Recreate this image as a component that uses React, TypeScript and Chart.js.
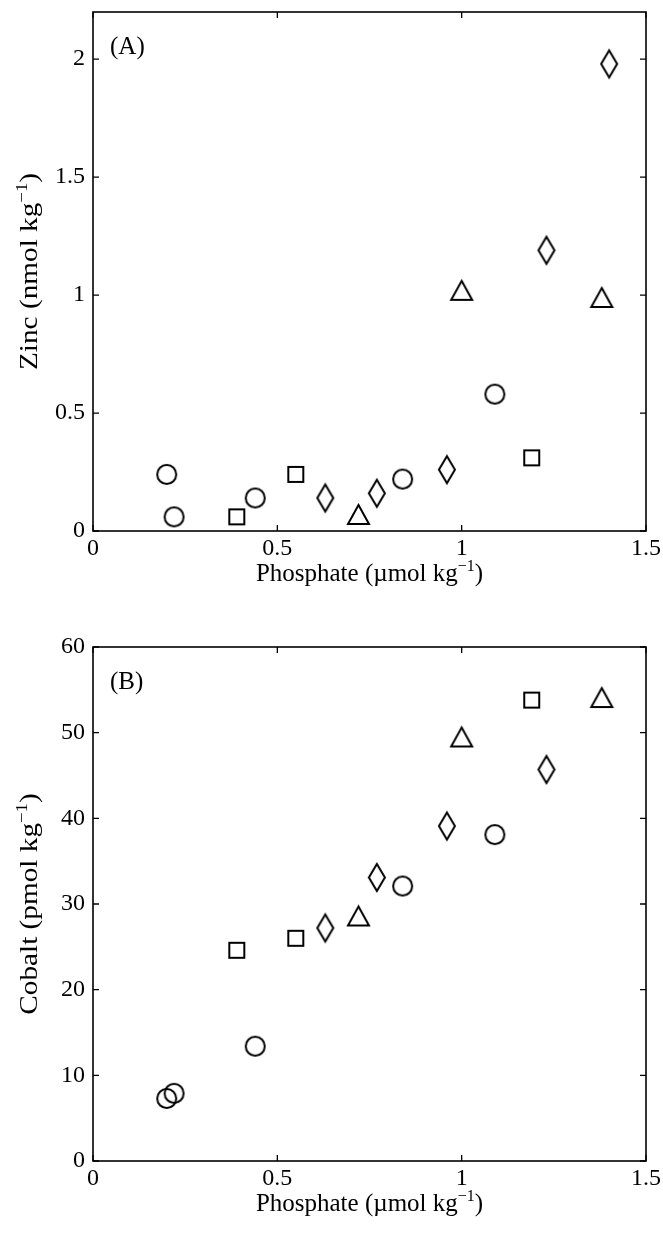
import React, { useEffect, useRef } from 'react';
import { Chart, registerables } from 'chart.js';
Chart.register(...registerables);

// ---- Data ----
const xTickValues = [0, 0.5, 1, 1.5];
const zincTickValues = [0, 0.5, 1, 1.5, 2];
const cobaltTickValues = [0, 10, 20, 30, 40, 50, 60];

const circlePO4 = [0.2, 0.22, 0.44, 0.84, 1.09];
const circleZn = [0.24, 0.06, 0.14, 0.22, 0.58];
const circleCo = [7.3, 7.9, 13.4, 32.1, 38.1];

const squarePO4 = [0.39, 0.55, 1.19];
const squareZn = [0.06, 0.24, 0.31];
const squareCo = [24.6, 26.0, 53.8];

const diamondPO4Zn = [0.63, 0.77, 0.96, 1.23, 1.4];
const diamondZn = [0.14, 0.16, 0.26, 1.19, 1.98];
const diamondPO4Co = [0.63, 0.77, 0.96, 1.23];
const diamondCo = [27.2, 33.1, 39.1, 45.7];

const trianglePO4 = [0.72, 1.0, 1.38];
const triangleZn = [0.07, 1.02, 0.99];
const triangleCo = [28.6, 49.5, 54.1];

const FONT = '"Liberation Serif", "Times New Roman", serif';
const FS = 24;
const TITLE_FS = 25;

type Part = { t: string; sup?: boolean };

function makeMarker(kind: string, w: number, h: number, lw = 2): HTMLCanvasElement {
  const pad = 2;
  const c = document.createElement('canvas');
  c.width = w + pad * 2;
  c.height = h + pad * 2;
  const ctx = c.getContext('2d')!;
  ctx.strokeStyle = '#000';
  ctx.lineWidth = lw;
  ctx.lineJoin = 'miter';
  const cx = c.width / 2;
  const cy = c.height / 2;
  const hw = w / 2 - lw / 2;
  const hh = h / 2 - lw / 2;
  ctx.beginPath();
  if (kind === 'circle') {
    ctx.ellipse(cx, cy, hw, hh, 0, 0, Math.PI * 2);
  } else if (kind === 'square') {
    ctx.rect(cx - hw, cy - hh, hw * 2, hh * 2);
  } else if (kind === 'diamond') {
    ctx.moveTo(cx, cy - hh);
    ctx.lineTo(cx + hw, cy);
    ctx.lineTo(cx, cy + hh);
    ctx.lineTo(cx - hw, cy);
    ctx.closePath();
  } else {
    ctx.moveTo(cx, cy - hh);
    ctx.lineTo(cx + hw, cy + hh);
    ctx.lineTo(cx - hw, cy + hh);
    ctx.closePath();
  }
  ctx.stroke();
  return c;
}

function richWidth(ctx: CanvasRenderingContext2D, parts: Part[]) {
  let w = 0;
  for (const p of parts) {
    ctx.font = `${p.sup ? 16 : TITLE_FS}px ${FONT}`;
    w += ctx.measureText(p.t).width;
  }
  return w;
}

function drawRich(ctx: CanvasRenderingContext2D, parts: Part[], cx: number, baseY: number) {
  const total = richWidth(ctx, parts);
  let x = cx - total / 2;
  ctx.textAlign = 'left';
  ctx.textBaseline = 'alphabetic';
  ctx.fillStyle = '#000';
  for (const p of parts) {
    ctx.font = `${p.sup ? 16 : TITLE_FS}px ${FONT}`;
    ctx.fillText(p.t, x, p.sup ? baseY - 10 : baseY);
    x += ctx.measureText(p.t).width;
  }
}

const framePlugin = {
  id: 'matlabFrame',
  afterDraw(chart: any) {
    const o = chart.options.plugins.matlabFrame;
    const { ctx, chartArea } = chart;
    const { left, right, top, bottom } = chartArea;
    const xs = chart.scales.x;
    const ys = chart.scales.y;
    ctx.save();
    ctx.strokeStyle = '#000';
    ctx.lineWidth = 1.6;
    ctx.strokeRect(left, top, right - left, bottom - top);
    const tl = 6;
    ctx.beginPath();
    for (const t of xs.ticks) {
      const px = xs.getPixelForValue(t.value);
      ctx.moveTo(px, bottom);
      ctx.lineTo(px, bottom - tl);
      ctx.moveTo(px, top);
      ctx.lineTo(px, top + tl);
    }
    for (const t of ys.ticks) {
      const py = ys.getPixelForValue(t.value);
      ctx.moveTo(left, py);
      ctx.lineTo(left + tl, py);
      ctx.moveTo(right, py);
      ctx.lineTo(right - tl, py);
    }
    ctx.lineWidth = 1.3;
    ctx.stroke();

    // panel label
    ctx.font = `${TITLE_FS}px ${FONT}`;
    ctx.fillStyle = '#000';
    ctx.textAlign = 'left';
    ctx.textBaseline = 'alphabetic';
    ctx.fillText(o.label, left + 17, top + 42);

    // x title
    drawRich(ctx, o.xTitle, (left + right) / 2, bottom + 50);

    // y title (stretched along its length like the reference)
    ctx.save();
    ctx.translate(37, (top + bottom) / 2);
    ctx.rotate(-Math.PI / 2);
    ctx.scale(1.17, 1);
    drawRich(ctx, o.yTitle, 0, 0);
    ctx.restore();
    ctx.restore();
  },
};

function makeConfig(
  markers: Record<string, HTMLCanvasElement>,
  sets: { kind: string; xs: number[]; ys: number[] }[],
  yTicks: number[],
  yMax: number,
  padTop: number,
  xHeight: number,
  label: string,
  yTitle: Part[]
): any {
  const tickFont = { family: FONT, size: FS };
  return {
    type: 'scatter',
    data: {
      datasets: sets.map((s) => ({
        data: s.xs.map((x, i) => ({ x, y: s.ys[i] })),
        pointStyle: markers[s.kind],
        pointRadius: 10,
        pointHoverRadius: 10,
        showLine: false,
      })),
    },
    options: {
      animation: false,
      responsive: false,
      devicePixelRatio: 1,
      events: [],
      layout: { padding: { top: padTop, right: 17, left: 0, bottom: 0 } },
      plugins: {
        legend: { display: false },
        tooltip: { enabled: false },
        matlabFrame: {
          label,
          xTitle: [{ t: 'Phosphate (\u00b5mol kg' }, { t: '\u22121', sup: true }, { t: ')' }],
          yTitle,
        },
      },
      scales: {
        x: {
          type: 'linear',
          min: 0,
          max: 1.5,
          afterBuildTicks: (s: any) => {
            s.ticks = xTickValues.map((v) => ({ value: v }));
          },
          afterFit: (s: any) => {
            s.height = xHeight;
            s.paddingLeft = 0;
            s.paddingRight = 0;
          },
          grid: { display: false, drawTicks: false },
          border: { display: false },
          ticks: {
            font: tickFont,
            color: '#000',
            padding: 3,
            maxRotation: 0,
            autoSkip: false,
            callback: (v: number) => String(v),
          },
        },
        y: {
          type: 'linear',
          min: 0,
          max: yMax,
          afterBuildTicks: (s: any) => {
            s.ticks = yTicks.map((v) => ({ value: v }));
          },
          afterFit: (s: any) => {
            s.width = 93;
            s.paddingTop = 0;
            s.paddingBottom = 0;
          },
          grid: { display: false, drawTicks: false },
          border: { display: false },
          ticks: {
            font: tickFont,
            color: '#000',
            padding: 8,
            autoSkip: false,
            callback: (v: number) => String(v),
          },
        },
      },
    },
    plugins: [framePlugin],
  };
}

export default function App() {
  const refA = useRef<HTMLCanvasElement>(null);
  const refB = useRef<HTMLCanvasElement>(null);

  useEffect(() => {
    const markers = {
      circle: makeMarker('circle', 21, 21),
      square: makeMarker('square', 17, 17),
      diamond: makeMarker('diamond', 18, 29),
      triangle: makeMarker('triangle', 23, 21),
    };
    const chartA = new Chart(
      refA.current!,
      makeConfig(
        markers,
        [
          { kind: 'circle', xs: circlePO4, ys: circleZn },
          { kind: 'square', xs: squarePO4, ys: squareZn },
          { kind: 'diamond', xs: diamondPO4Zn, ys: diamondZn },
          { kind: 'triangle', xs: trianglePO4, ys: triangleZn },
        ],
        zincTickValues,
        2.2,
        12,
        86,
        '(A)',
        [{ t: 'Zinc (nmol kg' }, { t: '\u22121', sup: true }, { t: ')' }]
      )
    );
    const chartB = new Chart(
      refB.current!,
      makeConfig(
        markers,
        [
          { kind: 'circle', xs: circlePO4, ys: circleCo },
          { kind: 'square', xs: squarePO4, ys: squareCo },
          { kind: 'diamond', xs: diamondPO4Co, ys: diamondCo },
          { kind: 'triangle', xs: trianglePO4, ys: triangleCo },
        ],
        cobaltTickValues,
        60,
        30,
        73,
        '(B)',
        [{ t: 'Cobalt (pmol kg' }, { t: '\u22121', sup: true }, { t: ')' }]
      )
    );
    return () => {
      chartA.destroy();
      chartB.destroy();
    };
  }, []);

  return (
    <div style={{ position: 'absolute', left: 0, top: 0, width: 663, height: 1234, background: '#fff' }}>
      <canvas ref={refA} width={663} height={617} style={{ position: 'absolute', left: 0, top: 0, width: 663, height: 617 }} />
      <canvas ref={refB} width={663} height={617} style={{ position: 'absolute', left: 0, top: 617, width: 663, height: 617 }} />
    </div>
  );
}
